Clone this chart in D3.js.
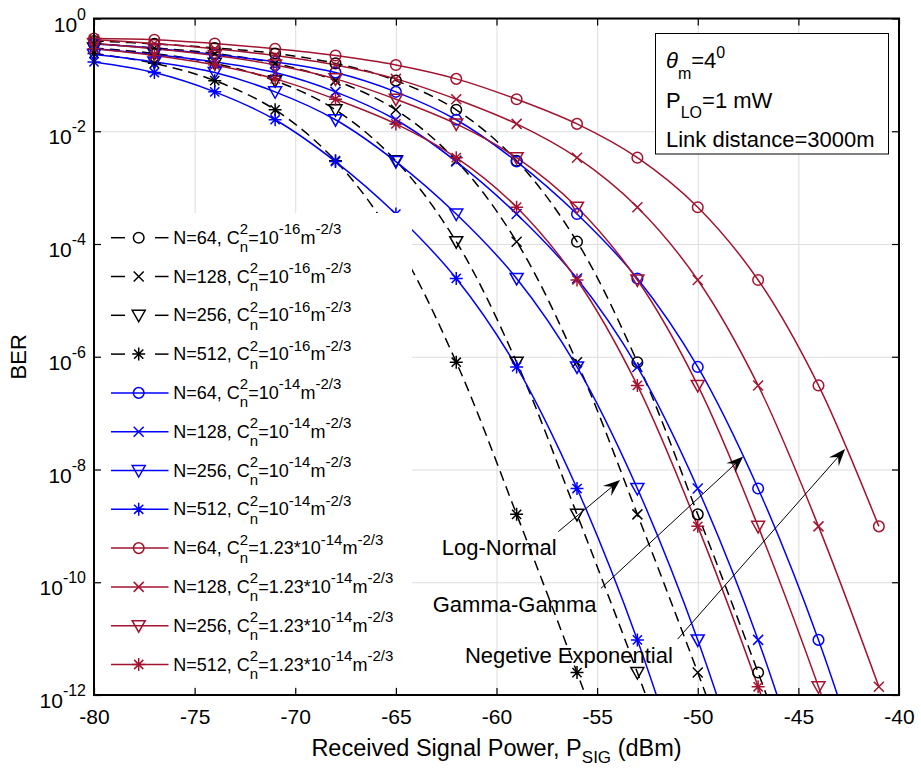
<!DOCTYPE html>
<html><head><meta charset="utf-8">
<script src="https://cdn.jsdelivr.net/npm/d3@7"></script>
<style>
body{margin:0;background:#fff}
svg{display:block}
text{font-family:"Liberation Sans",Arial,Helvetica,sans-serif;fill:#000;white-space:pre}
</style>
</head><body>
<svg id="c" width="921" height="771"></svg>
<script>
// ---------------- data ----------------
const powerDbm = [-80,-77,-74,-71,-68,-65,-62,-59,-56,-53,-50,-47,-44,-41];

// Cn2 = 1e-16 (black dashed)
const berN64Cn16  = [0.40,0.355,0.30,0.24,0.16,7.9e-2,2.4e-2,3.0e-3,1.1e-4,8.0e-7,1.6e-9,2.5e-12,3e-15,1e-18];
const berN128Cn16 = [0.355,0.30,0.24,0.16,7.9e-2,2.4e-2,3.0e-3,1.1e-4,8.0e-7,1.6e-9,2.5e-12,3e-15,1e-18,1e-22];
const berN256Cn16 = [0.30,0.24,0.16,7.9e-2,2.4e-2,3.0e-3,1.1e-4,8.0e-7,1.6e-9,2.5e-12,3e-15,1e-18,1e-22,1e-26];
const berN512Cn16 = [0.24,0.16,7.9e-2,2.4e-2,3.0e-3,1.1e-4,8.0e-7,1.6e-9,2.5e-12,3e-15,1e-18,1e-22,1e-26,1e-30];

// Cn2 = 1e-14 (blue)
const berN64Cn14  = [0.355,0.295,0.23,0.17,0.11,5.0e-2,1.6e-2,2.9e-3,3.4e-4,2.45e-5,6.6e-7,4.6e-9,9.5e-12,5e-15];
const berN128Cn14 = [0.295,0.23,0.17,0.11,5.0e-2,1.6e-2,2.9e-3,3.4e-4,2.45e-5,6.6e-7,4.6e-9,9.5e-12,5e-15,1e-18];
const berN256Cn14 = [0.23,0.17,0.11,5.0e-2,1.6e-2,2.9e-3,3.4e-4,2.45e-5,6.6e-7,4.6e-9,9.5e-12,5e-15,1e-18,1e-22];
const berN512Cn14 = [0.17,0.11,5.0e-2,1.6e-2,2.9e-3,3.4e-4,2.45e-5,6.6e-7,4.6e-9,9.5e-12,5e-15,1e-18,1e-22,1e-26];

// Cn2 = 1.23e-14 (dark red)
const berN64Cn123  = [0.44,0.42,0.36,0.29,0.22,0.15,8.5e-2,3.7e-2,1.35e-2,3.4e-3,4.5e-4,2.3e-5,3.1e-7,9.8e-10];
const berN128Cn123 = [0.42,0.36,0.29,0.22,0.15,8.5e-2,3.7e-2,1.35e-2,3.4e-3,4.5e-4,2.3e-5,3.1e-7,9.8e-10,1.4e-12];
const berN256Cn123 = [0.36,0.29,0.22,0.15,8.5e-2,3.7e-2,1.35e-2,3.4e-3,4.5e-4,2.3e-5,3.1e-7,9.8e-10,1.4e-12,1e-15];
const berN512Cn123 = [0.29,0.22,0.15,8.5e-2,3.7e-2,1.35e-2,3.4e-3,4.5e-4,2.3e-5,3.1e-7,9.8e-10,1.4e-12,1e-15,1e-19];

const nValues = [64,128,256,512];
const xTickValues = [-80,-75,-70,-65,-60,-55,-50,-45,-40];
const yTickExponents = [0,-2,-4,-6,-8,-10,-12];

const annotationLabels = ["Log-Normal","Gamma-Gamma","Negetive Exponential"];
// label anchor (dBm, BER) and arrow tail/tip (dBm, BER)
const annotationText  = [[-62.72,3.0e-10],[-63.17,2.95e-11],[-61.57,3.7e-12]];
const annotationTail  = [[-56.93,7.9e-10],[-54.81,7.8e-11],[-51.0,9.8e-12]];
const annotationTip   = [[-53.86,6.5e-9],[-47.74,1.7e-8],[-42.68,2.3e-8]];

// ---------------- setup ----------------
const RED = "#A2142F", BLUE = "#0000FF", BLACK = "#000000";
const series = [
  {v:berN64Cn16,  c:BLACK, dash:true, m:"o", n:nValues[0], mant:"",      ex:"-16"},
  {v:berN128Cn16, c:BLACK, dash:true, m:"x", n:nValues[1], mant:"",      ex:"-16"},
  {v:berN256Cn16, c:BLACK, dash:true, m:"v", n:nValues[2], mant:"",      ex:"-16"},
  {v:berN512Cn16, c:BLACK, dash:true, m:"*", n:nValues[3], mant:"",      ex:"-16"},
  {v:berN64Cn14,  c:BLUE,  dash:false,m:"o", n:nValues[0], mant:"",      ex:"-14"},
  {v:berN128Cn14, c:BLUE,  dash:false,m:"x", n:nValues[1], mant:"",      ex:"-14"},
  {v:berN256Cn14, c:BLUE,  dash:false,m:"v", n:nValues[2], mant:"",      ex:"-14"},
  {v:berN512Cn14, c:BLUE,  dash:false,m:"*", n:nValues[3], mant:"",      ex:"-14"},
  {v:berN64Cn123,  c:RED,  dash:false,m:"o", n:nValues[0], mant:"1.23*", ex:"-14"},
  {v:berN128Cn123, c:RED,  dash:false,m:"x", n:nValues[1], mant:"1.23*", ex:"-14"},
  {v:berN256Cn123, c:RED,  dash:false,m:"v", n:nValues[2], mant:"1.23*", ex:"-14"},
  {v:berN512Cn123, c:RED,  dash:false,m:"*", n:nValues[3], mant:"1.23*", ex:"-14"}
];

const M = {l:94, r:899, t:18.5, b:695};
const svg = d3.select("#c");
const x = d3.scaleLinear().domain([-80,-40]).range([M.l, M.r]);
const y = d3.scaleLog().domain([1e-12, 1]).range([M.b, M.t]);
const yTicks = yTickExponents.map(e => Math.pow(10, e));

svg.append("rect").attr("width",921).attr("height",771).attr("fill","#fff");
svg.append("defs").append("clipPath").attr("id","plotclip")
  .append("rect").attr("x",M.l).attr("y",M.t).attr("width",M.r-M.l).attr("height",M.b-M.t);

// grid
svg.append("g").attr("transform",`translate(0,${M.b})`)
  .call(d3.axisBottom(x).tickValues(xTickValues).tickSize(-(M.b-M.t)).tickFormat(""))
  .call(g=>{g.select(".domain").remove(); g.selectAll("line").attr("stroke","#dddddd").attr("stroke-width",1);});
svg.append("g").attr("transform",`translate(${M.l},0)`)
  .call(d3.axisLeft(y).tickValues(yTicks).tickSize(-(M.r-M.l)).tickFormat(""))
  .call(g=>{g.select(".domain").remove(); g.selectAll("line").attr("stroke","#dddddd").attr("stroke-width",1);});

// markers
function markerPath(m){
  if(m==="x") return "M-5,-5L5,5M-5,5L5,-5";
  if(m==="v") return "M-6.5,-5L6.5,-5L0,6.5Z";
  if(m==="*") return "M0,-6.5V6.5M-6.5,0H6.5M-4.6,-4.6L4.6,4.6M-4.6,4.6L4.6,-4.6";
  return null;
}
function drawMarker(g, m, cx, cy, color){
  if(m==="o"){
    g.append("circle").attr("cx",cx).attr("cy",cy).attr("r",5.3)
      .attr("fill","none").attr("stroke",color).attr("stroke-width",1.5);
  } else {
    g.append("path").attr("d",markerPath(m)).attr("transform",`translate(${cx},${cy})`)
      .attr("fill","none").attr("stroke",color).attr("stroke-width",1.5);
  }
}

const plot = svg.append("g").attr("clip-path","url(#plotclip)");
const lineGen = d3.line().x(d=>x(d[0])).y(d=>y(d[1])).curve(d3.curveCatmullRom.alpha(0.5));
const markG = svg.append("g");

series.forEach(s=>{
  const pts = [];
  for(let i=0;i<powerDbm.length;i++){
    pts.push([powerDbm[i], s.v[i]]);
    if(s.v[i] < 1e-12) break;
  }
  plot.append("path").attr("d",lineGen(pts)).attr("fill","none")
    .attr("stroke",s.c).attr("stroke-width",1.5)
    .attr("stroke-dasharray", s.dash ? "10,6" : null);
  pts.forEach(p=>{
    if(p[1] >= 1e-12*0.999) drawMarker(markG, s.m, x(p[0]), y(p[1]), s.c);
  });
});

// ---------------- rich text helper ----------------
function rich(parent, x0, yb, parts, opt){
  const F = opt.F, f = opt.f, up = opt.up, dn = opt.dn;
  const g = parent.append("g");
  let cx = x0;
  const add = (t, xx, yy, size, style) => {
    const el = g.append("text").attr("x",xx).attr("y",yy).attr("font-size",size).text(t);
    if(style){ Object.entries(style).forEach(([k,v])=>el.attr(k,v)); }
    return el.node().getComputedTextLength();
  };
  parts.forEach(p=>{
    if(p.k==="n") cx += add(p.t, cx, yb, F, p.st);
    else if(p.k==="sup") cx += add(p.t, cx, yb-up, f, p.st);
    else if(p.k==="sub") cx += add(p.t, cx, yb+dn, f, p.st);
    else if(p.k==="ss"){
      const w1 = add(p.t, cx, yb-up, f), w2 = add(p.t2, cx, yb+dn, f);
      cx += Math.max(w1,w2);
    }
  });
  const w = cx - x0;
  if(opt.anchor==="end") g.attr("transform",`translate(${-w},0)`);
  if(opt.anchor==="middle") g.attr("transform",`translate(${-w/2},0)`);
  return g;
}

// ---------------- legend ----------------
const leg = svg.append("g");
leg.append("rect").attr("x",100).attr("y",213).attr("width",312).attr("height",473).attr("fill","#fff");
series.forEach((s,i)=>{
  const cy = 237.7 + i*38.8;
  if(s.dash){
    leg.append("line").attr("x1",111).attr("x2",125).attr("y1",cy).attr("y2",cy).attr("stroke",s.c).attr("stroke-width",1.5);
    leg.append("line").attr("x1",155).attr("x2",168.5).attr("y1",cy).attr("y2",cy).attr("stroke",s.c).attr("stroke-width",1.5);
  } else {
    leg.append("line").attr("x1",111).attr("x2",168.5).attr("y1",cy).attr("y2",cy).attr("stroke",s.c).attr("stroke-width",1.5);
  }
  drawMarker(leg, s.m, 138.7, cy, s.c);
  rich(leg, 173.3, cy+6, [
    {k:"n", t:`N=${s.n}, C`},
    {k:"ss", t:"2", t2:"n"},
    {k:"n", t:`=${s.mant}10`},
    {k:"sup", t:s.ex},
    {k:"n", t:"m"},
    {k:"sup", t:"-2/3"}
  ], {F:18, f:15, up:9.5, dn:8.5});
});

// ---------------- annotations ----------------
const ann = svg.append("g");
annotationLabels.forEach((lab,i)=>{
  ann.append("text").attr("x",x(annotationText[i][0])).attr("y",y(annotationText[i][1]))
    .attr("font-size",22).text(lab);
  const x1 = x(annotationTail[i][0]), y1 = y(annotationTail[i][1]);
  const x2 = x(annotationTip[i][0]),  y2 = y(annotationTip[i][1]);
  const a = Math.atan2(y2-y1, x2-x1), ux = Math.cos(a), uy = Math.sin(a), px = -uy, py = ux;
  const L = 17, W = 6.5, N = 0.62*L;
  ann.append("line").attr("x1",x1).attr("y1",y1).attr("x2",x2-ux*N).attr("y2",y2-uy*N)
    .attr("stroke","#000").attr("stroke-width",1);
  ann.append("path").attr("d",
    `M${x2},${y2}L${x2-ux*L+px*W},${y2-uy*L+py*W}L${x2-ux*N},${y2-uy*N}L${x2-ux*L-px*W},${y2-uy*L-py*W}Z`)
    .attr("fill","#000");
});

// info box
const box = svg.append("g");
box.append("rect").attr("x",655.5).attr("y",33.5).attr("width",233).attr("height",120.5)
  .attr("fill","#fff").attr("stroke","#000").attr("stroke-width",1);
rich(box, 666, 68.3, [
  {k:"n", t:"θ", st:{"font-style":"italic","font-family":"'Liberation Serif','Times New Roman',serif"}},
  {k:"sub", t:"m"},
  {k:"n", t:"=4"},
  {k:"sup", t:"0"}
], {F:22, f:16, up:10, dn:10.5});
rich(box, 666, 108.3, [
  {k:"n", t:"P"},
  {k:"sub", t:"LO"},
  {k:"n", t:"=1 mW"}
], {F:22, f:16, up:10, dn:10});
box.append("text").attr("x",666).attr("y",146.7).attr("font-size",22).text("Link distance=3000m");

// ---------------- axes ----------------
const ax = svg.append("g");
ax.append("g").attr("transform",`translate(0,${M.b})`)
  .call(d3.axisBottom(x).tickValues(xTickValues).tickSize(-7).tickPadding(14).tickFormat(d=>d))
  .call(g=>{g.select(".domain").remove(); g.selectAll("line").attr("stroke","#000").attr("stroke-width",1.2);
    g.selectAll("text").attr("font-size",21).attr("font-family","'Liberation Sans',Arial,sans-serif").attr("fill","#000");});
ax.append("g").attr("transform",`translate(0,${M.t})`)
  .call(d3.axisTop(x).tickValues(xTickValues).tickSize(-7).tickFormat(""))
  .call(g=>{g.select(".domain").remove(); g.selectAll("line").attr("stroke","#000").attr("stroke-width",1.2);});
ax.append("g").attr("transform",`translate(${M.l},0)`)
  .call(d3.axisLeft(y).tickValues(yTicks).tickSize(-7).tickFormat(""))
  .call(g=>{g.select(".domain").remove(); g.selectAll("line").attr("stroke","#000").attr("stroke-width",1.2);});
ax.append("g").attr("transform",`translate(${M.r},0)`)
  .call(d3.axisRight(y).tickValues(yTicks).tickSize(-7).tickFormat(""))
  .call(g=>{g.select(".domain").remove(); g.selectAll("line").attr("stroke","#000").attr("stroke-width",1.2);});
ax.append("rect").attr("x",M.l).attr("y",M.t).attr("width",M.r-M.l).attr("height",M.b-M.t)
  .attr("fill","none").attr("stroke","#000").attr("stroke-width",2);

// y tick labels 10^e
yTickExponents.forEach(e=>{
  const ty = y(Math.pow(10,e));
  rich(ax, 86, ty+13, [{k:"n",t:"10"},{k:"sup",t:String(e)}], {F:21, f:16, up:12, dn:0, anchor:"end"});
});

// axis titles
rich(svg, (M.l+M.r)/2, 756, [
  {k:"n", t:"Received Signal Power, P"},
  {k:"sub", t:"SIG"},
  {k:"n", t:"\u00a0(dBm)"}
], {F:23.5, f:17, up:0, dn:7, anchor:"middle"});
svg.append("text").attr("transform",`translate(26,${(M.t+M.b)/2}) rotate(-90)`)
  .attr("text-anchor","middle").attr("font-size",22).text("BER");
</script>
</body></html>
